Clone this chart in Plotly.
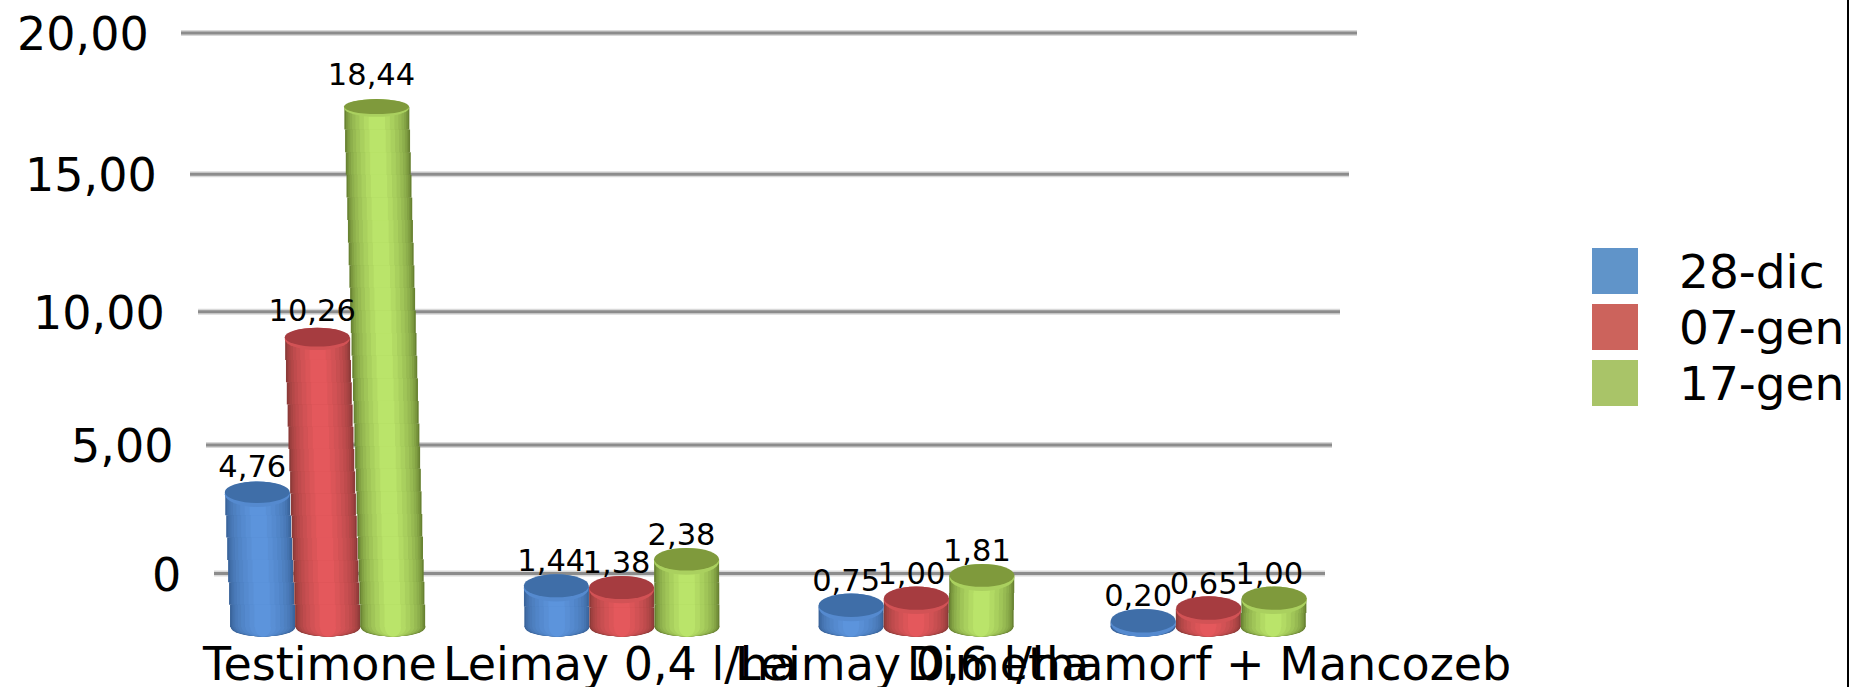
import math
import plotly.graph_objects as go

# ---- data ----
categories = ["Testimone", "Leimay 0,4 l/ha", "Leimay 0,6 l/ha", "Dimethamorf + Mancozeb"]
series_names = ["28-dic", "07-gen", "17-gen"]
values_28dic = [4.76, 1.44, 0.75, 0.20]
values_07gen = [10.26, 1.38, 1.00, 0.65]
values_17gen = [18.44, 2.38, 1.81, 1.00]
y_tick_values = [0, 5, 10, 15, 20]
y_tick_labels = ["0", "5,00", "10,00", "15,00", "20,00"]

all_values = [values_28dic, values_07gen, values_17gen]

# ---- layout geometry ----
W, H = 1850, 687
PLOT_BOTTOM = 640
GROUP0_PX, GROUP_STEP_PX = 327.0, 294.0
group_px = [327, 621, 915, 1207]
tick_px = [320, 620, 912, 1209]
BAR_PX, BAR_STEP_PX = 65.0, 65.0
VANISH_PX = 769.0
LEAN = 0.00238


def cat(px):
    return (px - GROUP0_PX) / GROUP_STEP_PX


# back wall: perspective-compressed tick positions on a linear wall axis
WALL_PX_PER_UNIT = 27.03
WALL_ZERO_PX = 573.6
wall_pos = [0, 4.76, 9.69, 14.77, 20]
wall_left_px = [214, 206, 198, 190, 181]
wall_right_px = [1325, 1332, 1340, 1349, 1357]
label_right_px = [183, 175, 167, 159, 151]

# front plane: bars
BAR_PX_PER_UNIT = 28.2
BAR_ZERO_PX = 627.0

tier_fracs = [1.0, 0.95, 0.90, 0.84, 0.76, 0.66, 0.54, 0.40, 0.25]
edge_colors = [(58, 100, 155), (140, 58, 56), (104, 130, 50)]
center_colors = [(92, 148, 220), (228, 88, 92), (186, 228, 106)]
cap_colors = ["#3f6ea8", "#a63c40", "#7f9a3c"]
legend_colors = ["#6094c9", "#cc635c", "#a9c468"]


def mix(a, b, t):
    return "rgb(%d,%d,%d)" % tuple(round(a[i] + (b[i] - a[i]) * t) for i in range(3))


def bar_x_px(i, s, v, frac):
    base = group_px[i] + BAR_STEP_PX * (s - 1) + 1
    return base + (base - VANISH_PX) * LEAN * v * frac


fig = go.Figure()
shapes = []
annotations = []

# gridlines on the wall
for k, pos in enumerate(wall_pos):
    xs = [cat(wall_left_px[k]), cat(wall_right_px[k])]
    fig.add_trace(go.Scatter(x=xs, y=[pos, pos], mode="lines", yaxis="y", xaxis="x",
                             line=dict(color="#d9d9d9", width=6), showlegend=False, hoverinfo="skip"))
    fig.add_trace(go.Scatter(x=xs, y=[pos, pos], mode="lines", yaxis="y", xaxis="x",
                             line=dict(color="#8c8c8c", width=3), showlegend=False, hoverinfo="skip"))
    annotations.append(dict(x=cat(label_right_px[k]), y=pos, xref="x", yref="y", xanchor="right",
                            yanchor="middle", yshift=-1, text=y_tick_labels[k], showarrow=False,
                            font=dict(size=46, color="black")))

# cylinders: a solid bar per value, shaded and leaned by thin slices on top
for s, vals in enumerate(all_values):
    mids = [cat(bar_x_px(i, s, v, 0.5)) for i, v in enumerate(vals)]
    fig.add_trace(go.Bar(x=mids, y=vals, width=BAR_PX * 0.5 / GROUP_STEP_PX, yaxis="y2", xaxis="x",
                         marker=dict(color=mix(edge_colors[s], center_colors[s], 0.8), line=dict(width=0)),
                         name=series_names[s], showlegend=False, hoverinfo="skip"))
    for t, frac in enumerate(tier_fracs):
        color = mix(edge_colors[s], center_colors[s], (t / (len(tier_fracs) - 1)) ** 0.8)
        wid = BAR_PX * frac / GROUP_STEP_PX
        xs, ys, bases = [], [], []
        for i, v in enumerate(vals):
            n = max(1, math.ceil(v * 1.2))
            for j in range(n):
                xs.append(cat(bar_x_px(i, s, v, (j + 0.5) / n)))
                ys.append(v / n)
                bases.append(v * j / n)
        fig.add_trace(go.Bar(x=xs, y=ys, base=bases, width=wid, yaxis="y2", xaxis="x",
                             marker=dict(color=color, line=dict(width=0)),
                             name=series_names[s], showlegend=False, hoverinfo="skip"))
        for i, v in enumerate(vals):
            m = cat(bar_x_px(i, s, v, 0.0))
            shapes.append(dict(type="circle", xref="x", yref="y2", layer="below",
                               x0=m - wid / 2, x1=m + wid / 2, y0=-9.5 / BAR_PX_PER_UNIT, y1=9.5 / BAR_PX_PER_UNIT,
                               fillcolor=color, line=dict(width=0)))
    for i, v in enumerate(vals):
        m = cat(bar_x_px(i, s, v, 1.0))
        ry = (12.5 - 0.25 * v) / BAR_PX_PER_UNIT
        half = BAR_PX * 0.5 / GROUP_STEP_PX
        shapes.append(dict(type="circle", xref="x", yref="y2", layer="above",
                           x0=m - half, x1=m + half, y0=v - ry * 1.25, y1=v + ry,
                           fillcolor=mix(edge_colors[s], center_colors[s], 0.8),
                           line=dict(width=0)))
        shapes.append(dict(type="circle", xref="x", yref="y2", layer="above",
                           x0=m - half, x1=m + half, y0=v - ry * 0.9, y1=v + ry,
                           fillcolor=cap_colors[s], line=dict(width=0)))
    fig.add_trace(go.Scatter(
        x=[cat(bar_x_px(i, s, v, 1.0) - 5) for i, v in enumerate(vals)],
        y=[v + (22.5 + 0.02 * v * v) / BAR_PX_PER_UNIT for v in vals],
        text=[("%.2f" % v).replace(".", ",") for v in vals],
        mode="text", textposition="middle center", yaxis="y2", xaxis="x",
        textfont=dict(size=30.5, color="black"), showlegend=False, hoverinfo="skip", cliponaxis=False))

# legend
legend_tops = [248, 304, 360]
for s, name in enumerate(series_names):
    shapes.append(dict(type="rect", xref="paper", yref="paper", layer="above",
                       x0=1592 / W, x1=1638 / W,
                       y0=(PLOT_BOTTOM - legend_tops[s] - 46) / PLOT_BOTTOM,
                       y1=(PLOT_BOTTOM - legend_tops[s]) / PLOT_BOTTOM,
                       fillcolor=legend_colors[s], line=dict(width=0)))
    annotations.append(dict(x=1677 / W, y=(PLOT_BOTTOM - legend_tops[s] - 23) / PLOT_BOTTOM,
                            xref="paper", yref="paper", xanchor="left", yanchor="middle",
                            text=name, showarrow=False, font=dict(size=47, color="black")))

# frame line at the right edge
shapes.append(dict(type="line", xref="paper", yref="paper", x0=1848 / W, x1=1848 / W, y0=-1, y1=1,
                   line=dict(color="black", width=2), layer="above"))

fig.update_layout(
    width=W, height=H, margin=dict(l=0, r=0, t=0, b=H - PLOT_BOTTOM, pad=0),
    paper_bgcolor="white", plot_bgcolor="white", barmode="overlay",
    font=dict(family="DejaVu Sans", color="black"),
    showlegend=False, shapes=shapes, annotations=annotations,
    xaxis=dict(range=[cat(0), cat(W)], tickmode="array", tickvals=[cat(p) for p in tick_px],
               ticktext=categories, tickangle=0, showgrid=False, zeroline=False, showline=False,
               ticks="", tickfont=dict(size=46, color="black"), automargin=False, ticklabelstandoff=-7),
    yaxis=dict(range=[(WALL_ZERO_PX - PLOT_BOTTOM) / WALL_PX_PER_UNIT, WALL_ZERO_PX / WALL_PX_PER_UNIT],
               showticklabels=False, showgrid=False, zeroline=False, showline=False, ticks=""),
    yaxis2=dict(range=[(BAR_ZERO_PX - PLOT_BOTTOM) / BAR_PX_PER_UNIT, BAR_ZERO_PX / BAR_PX_PER_UNIT],
                overlaying="y", showticklabels=False, showgrid=False, zeroline=False, showline=False, ticks=""),
)

fig.write_html("out.html", config={"displayModeBar": False},
               post_script="document.body.style.margin='0';document.body.style.overflow='hidden';")
